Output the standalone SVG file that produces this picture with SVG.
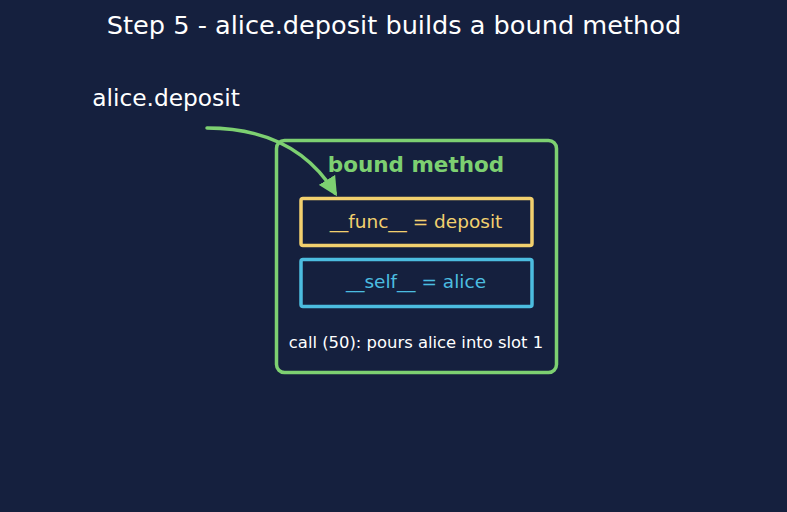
<svg xmlns="http://www.w3.org/2000/svg" width="787" height="512" viewBox="0 0 787 512">
<style>
text{font-family:"DejaVu Sans","Liberation Sans",sans-serif;text-anchor:middle}
.lbl{fill:#ffffff}
.box{fill:#15203e;stroke-width:3.5}
</style>
<defs>
<marker id="ah" viewBox="0 0 10 10" refX="8" refY="5" markerWidth="5.5" markerHeight="5.5" orient="auto" markerUnits="strokeWidth">
<path d="M0,0 L10,5 L0,10 z" fill="#7dd071"/>
</marker>
</defs>
<rect width="787" height="512" fill="#15203e"/>
<text class="lbl" x="394" y="34" font-size="25.6">Step 5 - alice.deposit builds a bound method</text>
<text class="lbl" x="166" y="106" font-size="23.3">alice.deposit</text>
<g id="bound">
<rect class="box" x="276.5" y="140.5" width="280" height="232" rx="8" stroke="#7dd071"/>
<text x="416" y="172" font-size="21.5" font-weight="bold" fill="#7dd071">bound method</text>
</g>
<g id="func">
<rect class="box" x="301" y="198.5" width="231" height="47" rx="2" stroke="#f2d06e"/>
<text x="416" y="228" font-size="18.5" fill="#f2d06e">__func__ = deposit</text>
</g>
<g id="self">
<rect class="box" x="301" y="259.5" width="231" height="47" rx="2" stroke="#4cbde0"/>
<text x="416" y="288" font-size="18.5" fill="#4cbde0">__self__ = alice</text>
</g>
<g id="call">
<text class="lbl" x="416" y="348" font-size="16.4">call (50): pours alice into slot 1</text>
</g>
<g id="connectors">
<path d="M207,128 Q295,128 335,193" fill="none" stroke="#7dd071" stroke-width="3.5" stroke-linecap="round" marker-end="url(#ah)"/>
</g>
</svg>
